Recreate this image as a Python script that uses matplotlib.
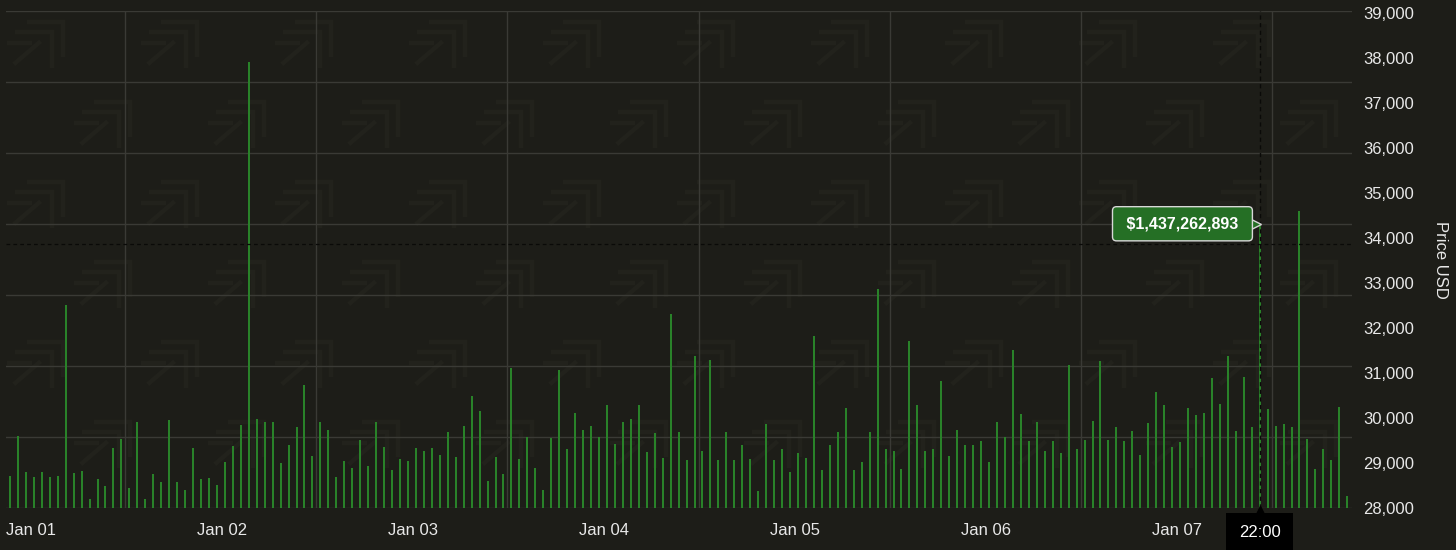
import matplotlib
matplotlib.use("Agg")
import matplotlib.pyplot as plt
import matplotlib.transforms as mtransforms
import numpy as np

plt.rcParams['font.family'] = ['Liberation Sans', 'DejaVu Sans']

# hourly bars, first one at Jan 01 09:00 (hour 9 counted from Jan 01 00:00)
start_hour = 9
values = [
    28700, 29611, 28811, 28678, 28789, 28678, 28722, 32500, 28767, 28833, 28211, 28641,
    28478, 29344, 29544, 28441, 29922, 28211, 28759, 28581, 29959, 28567, 28396, 29344,
    28648, 28670, 28522, 29033, 29381, 29848, 37916, 29967, 29915, 29915, 28989, 29389,
    29804, 30744, 29159, 29915, 29737, 28678, 29048, 28878, 29500, 28930, 29922, 29359,
    28848, 29078, 29048, 29330, 29270, 29337, 29174, 29678, 29137, 29833, 30478, 30159,
    28589, 29137, 28759, 31122, 29078, 29581, 28893, 28411, 29559, 31056, 29322, 30100,
    29744, 29833, 29567, 30278, 29433, 29922, 29981, 30285, 29248, 29656, 29100, 32300,
    29678, 29056, 31367, 29256, 31278, 29056, 29685, 29070, 29411, 29078, 28367, 29863,
    29056, 29300, 28789, 29226, 29122, 31818, 28841, 29411, 29678, 30233, 28848, 29033,
    29678, 32856, 29322, 29263, 28863, 31715, 30285, 29256, 29322, 30811, 29152, 29737,
    29404, 29411, 29478, 29033, 29922, 29567, 31500, 30078, 29478, 29900, 29256, 29478,
    29233, 31181, 29300, 29515, 29944, 31256, 29500, 29789, 29478, 29700, 29167, 29893,
    30574, 30278, 29359, 29456, 30233, 30070, 30100, 30878, 30300, 31374, 29700, 30900,
    29804, 34316, 30189, 29833, 29856, 29811, 34604, 29537, 28863, 29322, 29056, 30241,
    28256,
]
day_labels = ['Jan 01', 'Jan 02', 'Jan 03', 'Jan 04', 'Jan 05', 'Jan 06', 'Jan 07']
price_ticks = [28000, 29000, 30000, 31000, 32000, 33000, 34000, 35000, 36000, 37000, 38000, 39000]
hover_index = 157
hover_label = '$1,437,262,893'
hover_time = '22:00'
crosshair_price = 33856

hours = np.arange(len(values)) + start_hour

bg = '#1d1d18'
grid_c = '#3a3a35'
bar_c = '#298229'
txt_c = '#e8e8e8'
mark_c = '#22221c'

fig = plt.figure(figsize=(14.56, 5.5), dpi=100)
fig.patch.set_facecolor(bg)

# faint watermark logos behind the plot (pixel coords)
wm = fig.add_axes([0, 0, 1, 1], zorder=0)
wm.set_xlim(0, 1456)
wm.set_ylim(550, 0)
wm.axis('off')
logo = [
    ([0.35, 1.0, 1.0], [1.0, 1.0, 0.25]),
    ([0.15, 0.8, 0.8], [0.78, 0.78, 0.0]),
    ([0.12, 0.6], [0.08, 0.58]),
    ([0.0, 0.45], [0.55, 0.55]),
]
for row in range(6):
    for col in range(11):
        cx = 35 + 134 * col + 67 * (row % 2)
        if cx > 1320:
            continue
        bottom = 68 + 80 * row
        for lx, ly in logo:
            wm.plot(cx - 28 + np.array(lx) * 56, bottom - np.array(ly) * 46,
                    color=mark_c, lw=3.2, solid_capstyle='butt', solid_joinstyle='miter')

ax = fig.add_axes([6 / 1456, 42 / 550, 1346 / 1456, 497 / 550], zorder=1)
ax.set_facecolor('none')

ymin, ymax = 28000, 39044
ax.set_xlim(8.5, 177.6)
ax.set_ylim(ymin, ymax)

# grid: 7 horizontal bands (volume scale) and day separators
for k in range(8):
    ax.axhline(ymin + k * (ymax - ymin) / 7, color=grid_c, lw=1.0, zorder=1)
for k in range(7):
    ax.axvline(23.5 + 24 * k, color=grid_c, lw=1.0, zorder=1)

ax.vlines(hours, ymin, values, color=bar_c, lw=1.45, zorder=3)

# crosshair
hx = hours[hover_index]
ax.axhline(crosshair_price, color='#0a0a08', lw=0.9, dashes=(3, 2.5), zorder=4)
ax.axvline(hx, color='#0a0a08', lw=1.0, dashes=(3, 2.5), zorder=4)

# hover tooltip
ax.plot([hx - 0.6], [values[hover_index]], marker='>', ms=9, mfc='#256f25',
        mec='#d8d8d8', mew=1.0, zorder=5, clip_on=False)
ax.text(hx - 9.7, values[hover_index], ' ' + hover_label + ' ', ha='center', va='center',
        color='white', fontsize=11.5, fontweight='bold', zorder=6,
        bbox=dict(boxstyle='round,pad=0.6,rounding_size=0.25', fc='#256f25', ec='#d8d8d8', lw=1.0))

# time badge under the x axis
trans = mtransforms.blended_transform_factory(ax.transData, ax.transAxes)
ax.text(hx, -0.05, hover_time, transform=trans, ha='center', va='center', color='white',
        fontsize=12, zorder=6, clip_on=False,
        bbox=dict(boxstyle='square,pad=0.75', fc='black', ec='none'))
ax.plot([hx], [-0.007], marker='^', ms=7, color='black', transform=trans, clip_on=False, zorder=6)

ax.set_xticks(np.arange(len(day_labels)) * 24 + 11.6)
ax.set_xticklabels(day_labels)
ax.yaxis.tick_right()
ax.set_yticks(price_ticks)
ax.set_yticklabels([f'{v:,}' for v in price_ticks])
ax.tick_params(axis='both', length=0, colors=txt_c, labelsize=12)
ax.tick_params(axis='x', pad=11)
ax.tick_params(axis='y', pad=8)
for s in ax.spines.values():
    s.set_visible(False)

fig.text(1440 / 1456, 1 - 260 / 550, 'Price USD', rotation=270, ha='center', va='center',
         color=txt_c, fontsize=12)

fig.savefig('out.png', dpi=100, facecolor=bg)
